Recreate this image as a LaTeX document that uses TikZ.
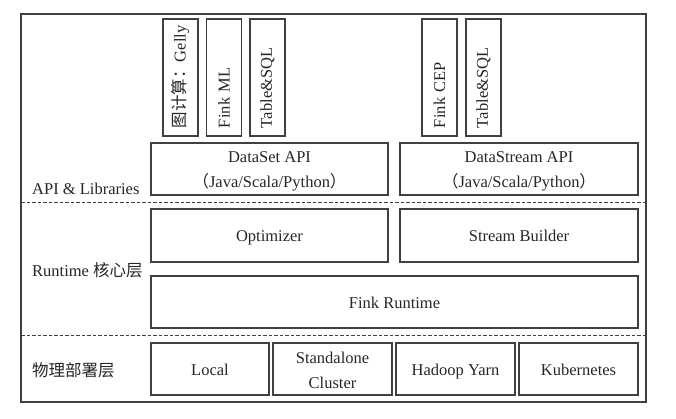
\documentclass[tikz,border=0pt]{standalone}
\usepackage{fontspec}
\setmainfont{Liberation Serif}
\newfontfamily\cjk{Noto Sans CJK SC}
\begin{document}
\begin{tikzpicture}[x=1pt,y=-1pt,
  every node/.style={font=\fontsize{16.5}{25}\selectfont, text=black!85},
  box/.style={draw=black!75, line width=1.2pt, inner sep=0pt, outer sep=0pt, anchor=north west, align=center},
  one/.style={text height=13.5pt, text depth=1.5pt},
  libbox/.style={draw=black!75, line width=1.2pt, rotate=90, inner xsep=8pt, inner ysep=0pt, text width=101pt, minimum height=35pt, align=left, outer sep=0pt},
  sep/.style={draw=black!75, line width=1pt, dash pattern=on 3.5pt off 2pt},
  lay/.style={anchor=west, inner sep=0pt}]
\useasboundingbox (0,0) rectangle (676,418);
\node[box, minimum width=625pt, minimum height=388pt] (frame) at (21,14) {};
\coordinate (d1l) at (21,202); \coordinate (d1r) at (646,202);
\coordinate (d2l) at (21,335); \coordinate (d2r) at (646,335);
\draw[sep] (d1l) -- (d1r);
\draw[sep] (d2l) -- (d2r);
% libraries
\node[libbox] (gelly) at (180.5,77.5) {{\cjk 图计算：}Gelly};
\node[libbox] (ml) at (224,77.5) {Fink ML};
\node[libbox] (tsql1) at (267.5,77.5) {Table\&SQL};
\node[libbox] (cep) at (439.5,77.5) {Fink CEP};
\node[libbox] (tsql2) at (483.5,77.5) {Table\&SQL};
% APIs
\node[box, minimum width=237pt, minimum height=52pt] (dataset) at (151,143) {\rule{0pt}{16pt}DataSet API\\{\cjk （}Java/Scala/Python{\cjk ）}};
\node[box, minimum width=238pt, minimum height=52pt] (datastream) at (400,143) {\rule{0pt}{16pt}DataStream API\\{\cjk （}Java/Scala/Python{\cjk ）}};
% runtime
\node[box, one, minimum width=237pt, minimum height=53pt] (opt) at (151,209) {Optimizer};
\node[box, one, minimum width=238pt, minimum height=53pt] (sb) at (400,209) {Stream Builder};
\node[box, one, minimum width=487pt, minimum height=52pt] (rt) at (151,276) {Fink Runtime};
% deployment
\node[box, one, minimum width=118pt, minimum height=52pt] (local) at (151,343) {Local};
\node[box, minimum width=119pt, minimum height=52pt] (sa) at (273,343) {\rule{0pt}{14pt}Standalone\\Cluster};
\node[box, one, minimum width=119pt, minimum height=52pt] (yarn) at (396,343) {Hadoop Yarn};
\node[box, one, minimum width=119pt, minimum height=52pt] (k8s) at (519,343) {Kubernetes};
% layer labels
\node[lay] (l1) at (32,189) {API \& Libraries};
\node[lay] (l2) at (32,270) {Runtime {\cjk 核心层}};
\node[lay] (l3) at (32,370) {\cjk 物理部署层};
\end{tikzpicture}
\end{document}
